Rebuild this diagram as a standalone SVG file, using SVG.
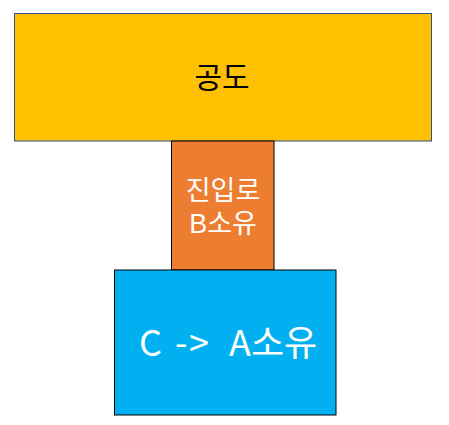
<svg xmlns="http://www.w3.org/2000/svg" width="449" height="425" viewBox="0 0 449 425">
<style>
text{font-family:"Noto Sans CJK KR","Noto Sans",sans-serif;text-anchor:middle}
.w{fill:#FFFFFF}
.b{fill:#000000}
.m{font-family:"Liberation Sans","Noto Sans CJK KR",sans-serif}
</style>
<rect width="449" height="425" fill="#FFFFFF"/>
<g id="road">
<rect x="14.5" y="13.5" width="417" height="127.5" fill="#FFC000" stroke="#2F528F" stroke-width="1"/>
<text class="b" x="222" y="88" font-size="30">공도</text>
</g>
<g id="access">
<rect x="171.5" y="141" width="102.5" height="129" fill="#ED7D31" stroke="#000000" stroke-width="1"/>
<text class="w m" x="223" y="200" font-size="27">진입로</text>
<text class="w m" x="223" y="233" font-size="27">B소유</text>
</g>
<g id="land">
<rect x="114.5" y="270" width="221.5" height="145" fill="#00B0F0" stroke="#000000" stroke-width="1"/>
<text class="w" y="356" font-size="36" style="text-anchor:start"><tspan x="139">C</tspan><tspan x="175">-</tspan><tspan x="189">&gt;</tspan><tspan x="229">A</tspan><tspan x="251">소유</tspan></text>
</g>
<g id="connectors"></g>
</svg>
